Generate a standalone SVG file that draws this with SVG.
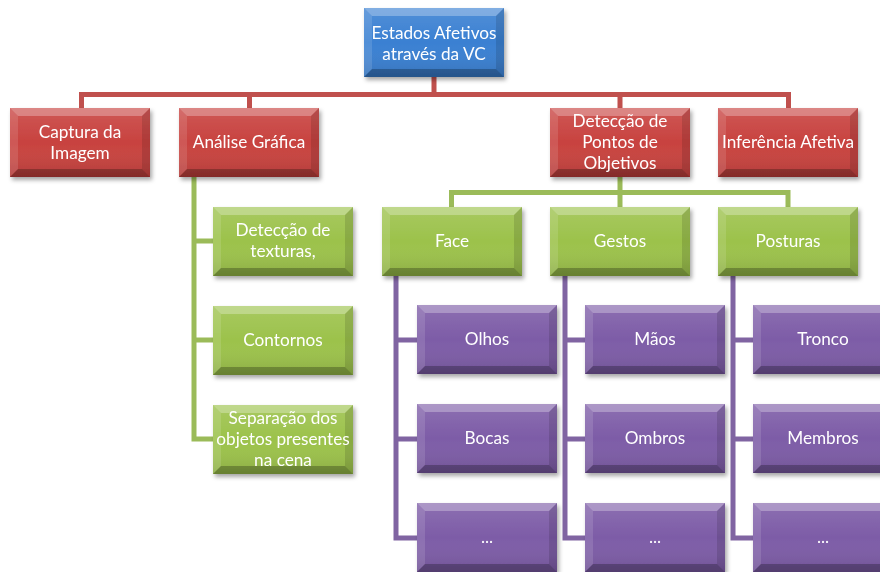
<svg xmlns="http://www.w3.org/2000/svg" xmlns:xlink="http://www.w3.org/1999/xlink" width="880" height="572" viewBox="0 0 880 572">
  <defs>
    <filter id="shadow" x="-10%" y="-10%" width="125%" height="135%">
      <feDropShadow dx="2" dy="3" stdDeviation="2.2" flood-color="#000" flood-opacity="0.35"/>
    </filter>
    <linearGradient id="shade" x1="0" y1="0" x2="0" y2="1">
      <stop offset="0" stop-color="#fff" stop-opacity="0.12"/>
      <stop offset="0.5" stop-color="#fff" stop-opacity="0"/>
      <stop offset="1" stop-color="#000" stop-opacity="0.12"/>
    </linearGradient>
    <!-- bevel facets shared by every box (140 x 69) -->
    <g id="bevel">
      <rect width="140" height="69" fill="url(#shade)"/>
      <polygon points="0,0 140,0 132,8 8,8" fill="#fff" fill-opacity="0.28"/>
      <polygon points="0,0 8,8 8,61 0,69" fill="#fff" fill-opacity="0.12"/>
      <polygon points="140,0 132,8 132,61 140,69" fill="#000" fill-opacity="0.12"/>
      <polygon points="0,69 140,69 132,61 8,61" fill="#000" fill-opacity="0.25"/>
    </g>
  </defs>
  <style>
    .box { filter: url(#shadow); }
    .blue rect.base { fill: #3a80d2; }
    .red rect.base { fill: #c8423f; }
    .green rect.base { fill: #9cc24b; }
    .purple rect.base { fill: #7d5ca7; }
    text { font-family: Lato, "Open Sans", "Liberation Sans", sans-serif; font-size: 17.2px; fill: #fff; text-anchor: middle; }
    .conn path { fill: none; stroke-width: 5; stroke-linejoin: miter; }
    .c-red { stroke: #c0504d; }
    .c-green { stroke: #9bbb59; }
    .c-purple { stroke: #8064a2; }
  </style>

  <g id="connectors" class="conn">
    <!-- root to first level -->
    <path class="c-red" d="M434,77 V94.5 M81.5,108 V94.5 H788.5 V108 M249.5,108 V94.5 M620,108 V94.5"/>
    <!-- Detecção de Pontos to Face / Gestos / Posturas -->
    <path class="c-green" d="M620,177 V192.5 M451.5,207 V192.5 H788 V207 M620,207 V192.5"/>
    <!-- Análise Gráfica children -->
    <path class="c-green" d="M194,177 V439 H213 M194,241 H213 M194,340 H213"/>
    <!-- Face children -->
    <path class="c-purple" d="M396,275 V538 H417 M396,340 H417 M396,439 H417"/>
    <!-- Gestos children -->
    <path class="c-purple" d="M565,275 V538 H585 M565,340 H585 M565,439 H585"/>
    <!-- Posturas children -->
    <path class="c-purple" d="M733,275 V538 H753 M733,340 H753 M733,439 H753"/>
  </g>

  <g id="n-root" class="box blue" transform="translate(364,8)">
    <rect class="base" width="140" height="69"/><use xlink:href="#bevel"/>
    <text x="70" y="31">Estados Afetivos</text>
    <text x="70" y="52">através da VC</text>
  </g>

  <g id="n-captura" class="box red" transform="translate(10,108)">
    <rect class="base" width="140" height="69"/><use xlink:href="#bevel"/>
    <text x="70" y="30">Captura da</text>
    <text x="70" y="51">Imagem</text>
  </g>
  <g id="n-analise" class="box red" transform="translate(179,108)">
    <rect class="base" width="140" height="69"/><use xlink:href="#bevel"/>
    <text x="70" y="40">Análise Gráfica</text>
  </g>
  <g id="n-deteccao" class="box red" transform="translate(550,108)">
    <rect class="base" width="140" height="69"/><use xlink:href="#bevel"/>
    <text x="70" y="19">Detecção de</text>
    <text x="70" y="40">Pontos de</text>
    <text x="70" y="61">Objetivos</text>
  </g>
  <g id="n-inferencia" class="box red" transform="translate(718,108)">
    <rect class="base" width="140" height="69"/><use xlink:href="#bevel"/>
    <text x="70" y="40">Inferência Afetiva</text>
  </g>

  <g id="n-texturas" class="box green" transform="translate(213,207)">
    <rect class="base" width="140" height="69"/><use xlink:href="#bevel"/>
    <text x="70" y="29">Detecção de</text>
    <text x="70" y="50">texturas,</text>
  </g>
  <g id="n-contornos" class="box green" transform="translate(213,306)">
    <rect class="base" width="140" height="69"/><use xlink:href="#bevel"/>
    <text x="70" y="40">Contornos</text>
  </g>
  <g id="n-separacao" class="box green" transform="translate(213,405)">
    <rect class="base" width="140" height="69"/><use xlink:href="#bevel"/>
    <text x="70" y="19">Separação dos</text>
    <text x="70" y="40">objetos presentes</text>
    <text x="70" y="61">na cena</text>
  </g>

  <g id="n-face" class="box green" transform="translate(382,207)">
    <rect class="base" width="140" height="69"/><use xlink:href="#bevel"/>
    <text x="70" y="40">Face</text>
  </g>
  <g id="n-gestos" class="box green" transform="translate(550,207)">
    <rect class="base" width="140" height="69"/><use xlink:href="#bevel"/>
    <text x="70" y="40">Gestos</text>
  </g>
  <g id="n-posturas" class="box green" transform="translate(718,207)">
    <rect class="base" width="140" height="69"/><use xlink:href="#bevel"/>
    <text x="70" y="40">Posturas</text>
  </g>

  <g id="n-olhos" class="box purple" transform="translate(417,305)">
    <rect class="base" width="140" height="69"/><use xlink:href="#bevel"/>
    <text x="70" y="40">Olhos</text>
  </g>
  <g id="n-bocas" class="box purple" transform="translate(417,404)">
    <rect class="base" width="140" height="69"/><use xlink:href="#bevel"/>
    <text x="70" y="40">Bocas</text>
  </g>
  <g id="n-face-more" class="box purple" transform="translate(417,503)">
    <rect class="base" width="140" height="69"/><use xlink:href="#bevel"/>
    <text x="70" y="40">...</text>
  </g>

  <g id="n-maos" class="box purple" transform="translate(585,305)">
    <rect class="base" width="140" height="69"/><use xlink:href="#bevel"/>
    <text x="70" y="40">Mãos</text>
  </g>
  <g id="n-ombros" class="box purple" transform="translate(585,404)">
    <rect class="base" width="140" height="69"/><use xlink:href="#bevel"/>
    <text x="70" y="40">Ombros</text>
  </g>
  <g id="n-gestos-more" class="box purple" transform="translate(585,503)">
    <rect class="base" width="140" height="69"/><use xlink:href="#bevel"/>
    <text x="70" y="40">...</text>
  </g>

  <g id="n-tronco" class="box purple" transform="translate(753,305)">
    <rect class="base" width="140" height="69"/><use xlink:href="#bevel"/>
    <text x="70" y="40">Tronco</text>
  </g>
  <g id="n-membros" class="box purple" transform="translate(753,404)">
    <rect class="base" width="140" height="69"/><use xlink:href="#bevel"/>
    <text x="70" y="40">Membros</text>
  </g>
  <g id="n-posturas-more" class="box purple" transform="translate(753,503)">
    <rect class="base" width="140" height="69"/><use xlink:href="#bevel"/>
    <text x="70" y="40">...</text>
  </g>
</svg>
